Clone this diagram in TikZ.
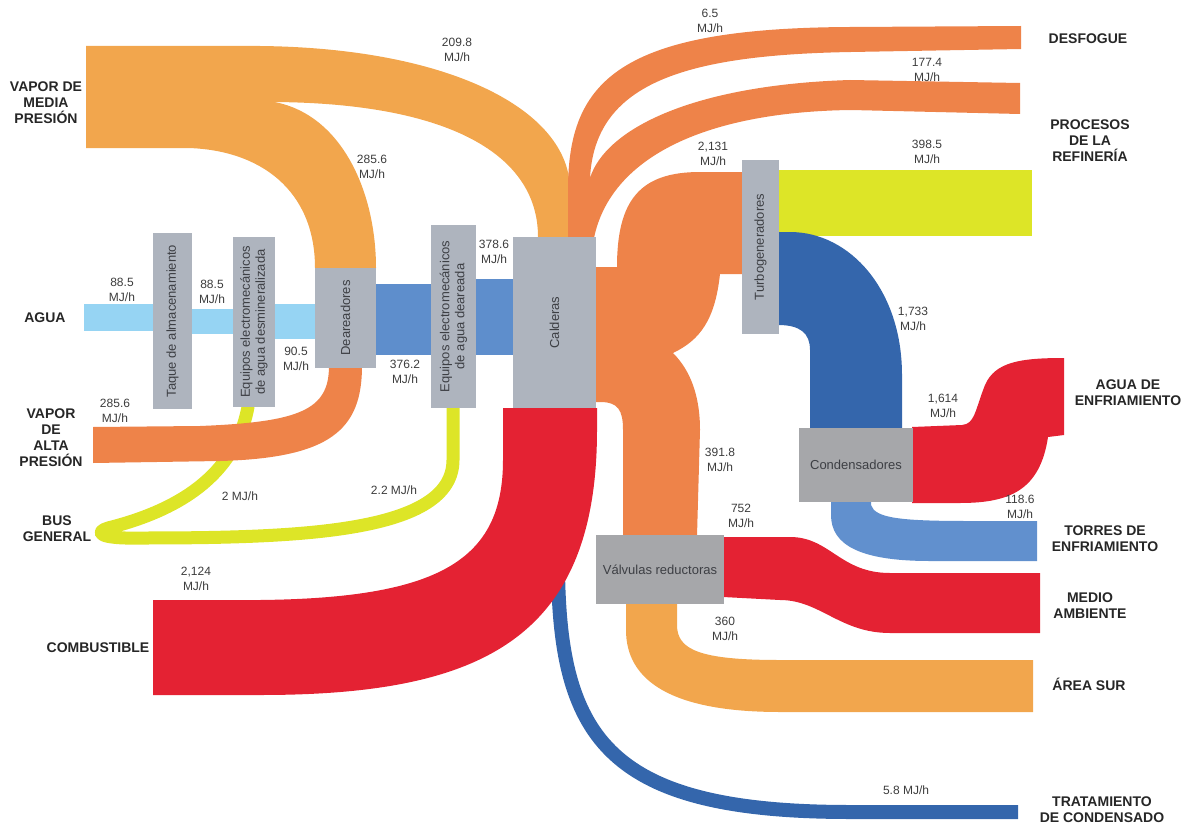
\documentclass[tikz,border=0pt]{standalone}
\usepackage{fontspec}
\setmainfont{Liberation Sans}
\definecolor{cLOr}{HTML}{F2A64D}
\definecolor{cOr}{HTML}{EE8349}
\definecolor{cRed}{HTML}{E42233}
\definecolor{cYel}{HTML}{DDE527}
\definecolor{cAqua}{HTML}{96D4F3}
\definecolor{cMidBlue}{HTML}{5E8ECC}
\definecolor{cDkBlue}{HTML}{3466AC}
\definecolor{cTorres}{HTML}{6190CE}
\definecolor{cBox}{HTML}{AEB4BE}
\definecolor{cBoxB}{HTML}{A6A7AA}
\definecolor{cBoxTxt}{HTML}{3D3F44}
\definecolor{cVal}{HTML}{3C3C3C}
\definecolor{cCat}{HTML}{262626}
\begin{document}
\begin{tikzpicture}[x=1pt,y=-1pt,
  box/.style={fill=cBox, inner sep=0pt, text=cBoxTxt, align=center,
    font=\fontsize{13}{15}\selectfont},
  boxb/.style={box, fill=cBoxB},
  val/.style={text=cVal, align=center, inner sep=0pt,
    font=\fontsize{12}{15}\selectfont},
  cat/.style={text=cCat, align=center, inner sep=0pt,
    font=\bfseries\fontsize{14}{16}\selectfont},
  bus/.style={draw=cYel, line width=13pt, line cap=round, line join=round},
  thinflow/.style={draw=cDkBlue, line width=14pt}]
\useasboundingbox (0,0) rectangle (1188,824);

% --- bus general loop (under the high-pressure steam band)
\draw[bus] (248,407) .. controls (238,460) and (200,505) .. (108,528)
  .. controls (95,532) and (98,539) .. (140,538)
  .. controls (300,538) and (453,533) .. (453,460) -- (453,407);

% --- medium-pressure steam: upper band to boilers, lower band to deaerators
\fill[cLOr] (86,46) -- (260,46) .. controls (450,48) and (570,110) .. (570,190)
  -- (570,237) -- (538,237) .. controls (538,150) and (440,102) .. (268,102)
  -- (86,102) -- cycle;
\fill[cLOr] (86,101) -- (268,101) .. controls (340,110) and (376,190) .. (376,268)
  -- (315,268) .. controls (315,190) and (260,150) .. (188,148)
  -- (86,148) -- cycle;

% --- high-pressure steam into the deaerators
\fill[cOr] (93,427) -- (200,426) .. controls (300,422) and (329,410) .. (329,366)
  -- (362,366) .. controls (362,430) and (330,458) .. (220,461)
  -- (93,463) -- cycle;

% --- water line
\fill[cAqua] (84,304) rectangle (154,331);
\fill[cAqua] (191,309) rectangle (234,334);
\fill[cAqua] (274,304) rectangle (316,339);
\fill[cMidBlue] (375,284) rectangle (432,355);
\fill[cMidBlue] (475,279) rectangle (514,355);

% --- condensate treatment (passes under the fuel band)
\draw[thinflow] (558,570) .. controls (560,740) and (610,812) .. (850,812) -- (1018,812);

% --- fuel into the boilers
\fill[cRed] (153,600) -- (260,600) .. controls (440,598) and (503,560) .. (503,460)
  -- (503,408) -- (597,408) -- (597,430) .. controls (597,640) and (480,695) .. (260,695)
  -- (153,695) -- cycle;

% --- boiler top: vent and refinery processes
\fill[cOr] (568,238) -- (568,190) .. controls (568,80) and (620,28) .. (850,27)
  -- (1021,26) -- (1021,49) -- (851,52) .. controls (680,55) and (595,85) .. (590,178)
  .. controls (605,130) and (690,85) .. (850,80) -- (1020,83) -- (1020,114)
  -- (851,110) .. controls (700,112) and (610,160) .. (594,238) -- cycle;

% --- boiler side: turbogenerators and reducing valves
\fill[cOr] (592,267) -- (617,267) .. controls (617,200) and (640,172) .. (700,172)
  -- (743,172) -- (743,274) -- (720,274) .. controls (715,320) and (700,340) .. (673,353)
  .. controls (690,370) and (700,395) .. (700,430) -- (697,536) -- (623,536)
  -- (623,430) .. controls (623,410) and (618,402) .. (600,402) -- (592,402) -- cycle;

% --- turbogenerators to refinery processes
\fill[cYel] (778,170) rectangle (1032,236);

% --- turbogenerators to condensers
\fill[cDkBlue] (778,232) -- (790,232) .. controls (850,232) and (902,290) .. (902,375)
  -- (902,429) -- (810,429) -- (810,350) .. controls (810,333) and (800,325) .. (778,325) -- cycle;

% --- condensers to cooling water
\fill[cRed] (912,427) -- (962,425) .. controls (975,424) and (975,410) .. (985,385)
  .. controls (995,362) and (1020,358) .. (1064,358) -- (1064,435) -- (1048,437)
  .. controls (1040,490) and (1010,503) .. (960,503) -- (912,503) -- cycle;

% --- condensers to cooling towers
\fill[cTorres] (831,501) -- (871,501) -- (871,505) .. controls (875,518) and (900,521) .. (968,521)
  -- (1037,521) -- (1037,561) -- (930,561) .. controls (860,561) and (831,545) .. (831,515) -- cycle;

% --- reducing valves to environment
\fill[cRed] (723,537) -- (790,537) .. controls (830,537) and (840,573) .. (890,573)
  -- (1040,573) -- (1040,633) -- (890,633) .. controls (840,633) and (820,600) .. (780,600)
  -- (723,597) -- cycle;

% --- reducing valves to south area
\fill[cLOr] (626,603) -- (677,603) -- (677,625) .. controls (677,650) and (700,660) .. (780,660)
  -- (1033,660) -- (1033,712) -- (780,712) .. controls (670,712) and (626,680) .. (626,630) -- cycle;

% --- equipment boxes
\node[box, rotate=90, minimum width=176, minimum height=39] (taque) at (172.5,321) {Taque de almacenamiento};
\node[box, rotate=90, minimum width=170, minimum height=42] (desmin) at (254,322) {Equipos electromecánicos\\de agua desmineralizada};
\node[box, rotate=90, minimum width=100, minimum height=61] (dear) at (345.5,318) {Deareadores};
\node[box, rotate=90, minimum width=183, minimum height=45] (deareada) at (453.5,316.5) {Equipos electromecánicos\\de agua deareada};
\node[box, rotate=90, minimum width=171, minimum height=83] (calderas) at (554.5,322.5) {Calderas};
\node[box, rotate=90, minimum width=174, minimum height=37] (turbo) at (760.5,247) {Turbogeneradores};
\node[boxb, minimum width=114, minimum height=74] (condens) at (856,465) {Condensadores};
\node[boxb, minimum width=128, minimum height=69] (valv) at (660,569.5) {Válvulas reductoras};

% --- flow values
\node[val] (v1) at (457,50) {209.8\\MJ/h};
\node[val] (v2) at (372,167) {285.6\\MJ/h};
\node[val] (v3) at (122,290) {88.5\\MJ/h};
\node[val] (v4) at (212,292) {88.5\\MJ/h};
\node[val] (v5) at (296,359) {90.5\\MJ/h};
\node[val] (v6) at (405,372) {376.2\\MJ/h};
\node[val] (v7) at (494,252) {378.6\\MJ/h};
\node[val] (v8) at (115,411) {285.6\\MJ/h};
\node[val] (v9) at (240,496) {2 MJ/h};
\node[val] (v10) at (394,490) {2.2 MJ/h};
\node[val] (v11) at (196,579) {2,124\\MJ/h};
\node[val] (v12) at (710,21) {6.5\\MJ/h};
\node[val] (v13) at (927,70) {177.4\\MJ/h};
\node[val] (v14) at (713,154) {2,131\\MJ/h};
\node[val] (v15) at (927,152) {398.5\\MJ/h};
\node[val] (v16) at (913,319) {1,733\\MJ/h};
\node[val] (v17) at (943,406) {1,614\\MJ/h};
\node[val] (v18) at (720,460) {391.8\\MJ/h};
\node[val] (v19) at (741,516) {752\\MJ/h};
\node[val] (v20) at (1020,507) {118.6\\MJ/h};
\node[val] (v21) at (725,629) {360\\MJ/h};
\node[val] (v22) at (906,790) {5.8 MJ/h};

% --- sources and sinks
\node[cat] (mediaP) at (46,103) {VAPOR DE\\MEDIA\\PRESIÓN};
\node[cat] (agua) at (45,318) {AGUA};
\node[cat] (altaP) at (51,438) {VAPOR\\DE\\ALTA\\PRESIÓN};
\node[cat] (busG) at (57,529) {BUS\\GENERAL};
\node[cat] (comb) at (98,648) {COMBUSTIBLE};
\node[cat] (desf) at (1088,39) {DESFOGUE};
\node[cat] (proc) at (1090,141) {PROCESOS\\DE LA\\REFINERÍA};
\node[cat] (aguaE) at (1128,393) {AGUA DE\\ENFRIAMIENTO};
\node[cat] (torres) at (1105,539) {TORRES DE\\ENFRIAMIENTO};
\node[cat] (medio) at (1090,606) {MEDIO\\AMBIENTE};
\node[cat] (sur) at (1089,684) {ÁREA SUR};
\node[cat] (trat) at (1102,810) {TRATAMIENTO\\DE CONDENSADO};
\end{tikzpicture}
\end{document}
